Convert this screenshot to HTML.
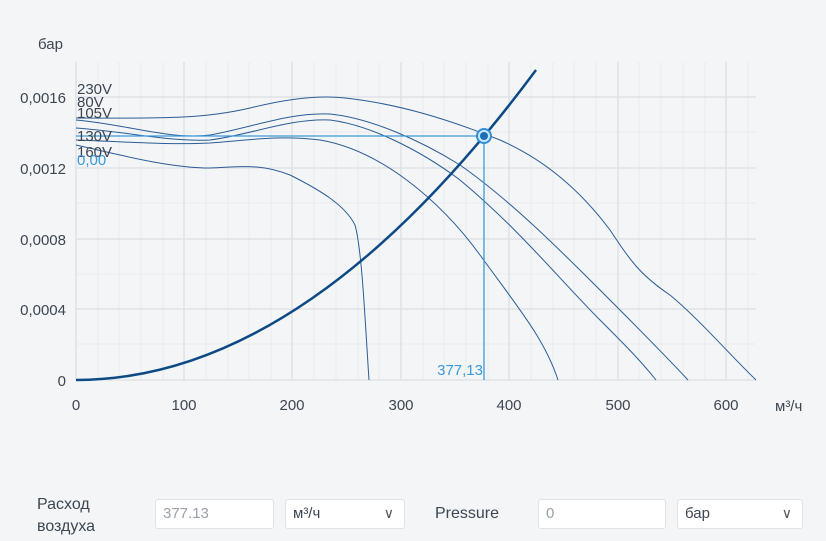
<!DOCTYPE html>
<html><head><meta charset="utf-8"><style>
body{margin:0;width:826px;height:541px;background:#f4f5f7;font-family:"Liberation Sans",sans-serif;overflow:hidden;position:relative}
.box{position:absolute;top:499px;height:30px;background:#fff;border:1px solid #dfe2e6;border-radius:3px;box-sizing:border-box;font-size:15px;line-height:28px;padding-left:7px}
.lbl{position:absolute;font-size:16px;color:#3d4650}
</style></head><body>
<svg width="826" height="470" style="position:absolute;left:0;top:0" font-family="Liberation Sans, sans-serif">
<g stroke="#e8eaed" stroke-width="1">
<path d="M98,62V380M119,62V380M141,62V380M163,62V380M206,62V380M228,62V380M249,62V380M271,62V380M314,62V380M336,62V380M358,62V380M379,62V380M423,62V380M444,62V380M466,62V380M488,62V380M531,62V380M553,62V380M574,62V380M596,62V380M639,62V380M661,62V380M683,62V380M705,62V380M748,62V380"/>
<path d="M76,132H756M76,203H756M76,274H756M76,344H756"/>
</g>
<g stroke="#dcdfe3" stroke-width="1.3">
<path d="M76,62V380M184,62V380M292,62V380M401,62V380M509,62V380M618,62V380M726,62V380"/>
<path d="M76,97H756M76,168H756M76,239H756M76,309H756M76,380H756"/>
</g>
<g fill="none" stroke="#2a5d95" stroke-width="1">
<path d="M76,118 C150,118 200,120 250,108 C290,98 320,95 345,98 C400,104 450,120 500,140 C545,160 580,190 610,230 C630,260 640,275 670,295 C700,320 730,355 756,380"/>
<path d="M76,120 C130,125 170,140 210,135 C250,128 290,112 330,114 C370,118 420,140 460,165 C510,200 560,250 600,290 C630,320 660,350 688,380"/>
<path d="M76,128 C130,132 170,142 210,140 C250,135 290,118 330,120 C370,125 420,150 460,180 C520,230 560,280 600,320 C625,345 640,360 656,380"/>
<path d="M76,140 C130,142 170,145 210,143 C250,140 280,135 320,140 C380,150 440,200 480,255 C520,310 545,340 558,380"/>
<path d="M76,145 C120,155 170,168 210,168 C240,167 260,163 290,175 C320,190 345,205 355,225 C362,250 365,320 369,380"/>
</g>
<path d="M76,136H484V380" fill="none" stroke="#3a9ad9" stroke-width="1.3"/>
<path d="M76,380 Q306,380 536,70" fill="none" stroke="#0d4a85" stroke-width="2.5"/>
<circle cx="484" cy="136" r="7" fill="#cfe6f7" stroke="#2f8fd8" stroke-width="2"/>
<circle cx="484" cy="136" r="4" fill="#1a6fb8"/>
<g font-size="15" fill="#3d4650" text-anchor="end">
<text x="66" y="103">0,0016</text><text x="66" y="174">0,0012</text><text x="66" y="245">0,0008</text><text x="66" y="315">0,0004</text><text x="66" y="386">0</text>
</g>
<g font-size="15" fill="#3d4650" text-anchor="middle">
<text x="76" y="410">0</text><text x="184" y="410">100</text><text x="292" y="410">200</text><text x="401" y="410">300</text><text x="509" y="410">400</text><text x="618" y="410">500</text><text x="726" y="410">600</text>
</g>
<text x="775" y="411" font-size="15" fill="#3d4650">м³/ч</text>
<text x="38" y="49" font-size="15" fill="#3d4650">бар</text>
<g font-size="15" fill="#3d4650">
<text x="77" y="94">230V</text><text x="77" y="107">80V</text><text x="77" y="118">105V</text><text x="77" y="141">130V</text><text x="77" y="157">160V</text>
</g>
<text x="77" y="165" font-size="15" fill="#3a9ad9">0,00</text>
<text x="483" y="375" font-size="15" fill="#3a9ad9" text-anchor="end">377,13</text>
</svg>
<div class="lbl" style="left:37px;top:494px;line-height:22px">Расход<br>воздуха</div>
<div class="box" style="left:155px;width:119px;color:#9aa1a8">377.13</div>
<div class="box" style="left:285px;width:120px;color:#3d4650">м³/ч<span style="position:absolute;right:10px;top:-1px;font-size:14px;color:#555">&#8744;</span></div>
<div class="lbl" style="left:435px;top:505px">Pressure</div>
<div class="box" style="left:538px;width:128px;color:#9aa1a8">0</div>
<div class="box" style="left:677px;width:126px;color:#3d4650">бар<span style="position:absolute;right:10px;top:-1px;font-size:14px;color:#555">&#8744;</span></div>
</body></html>
